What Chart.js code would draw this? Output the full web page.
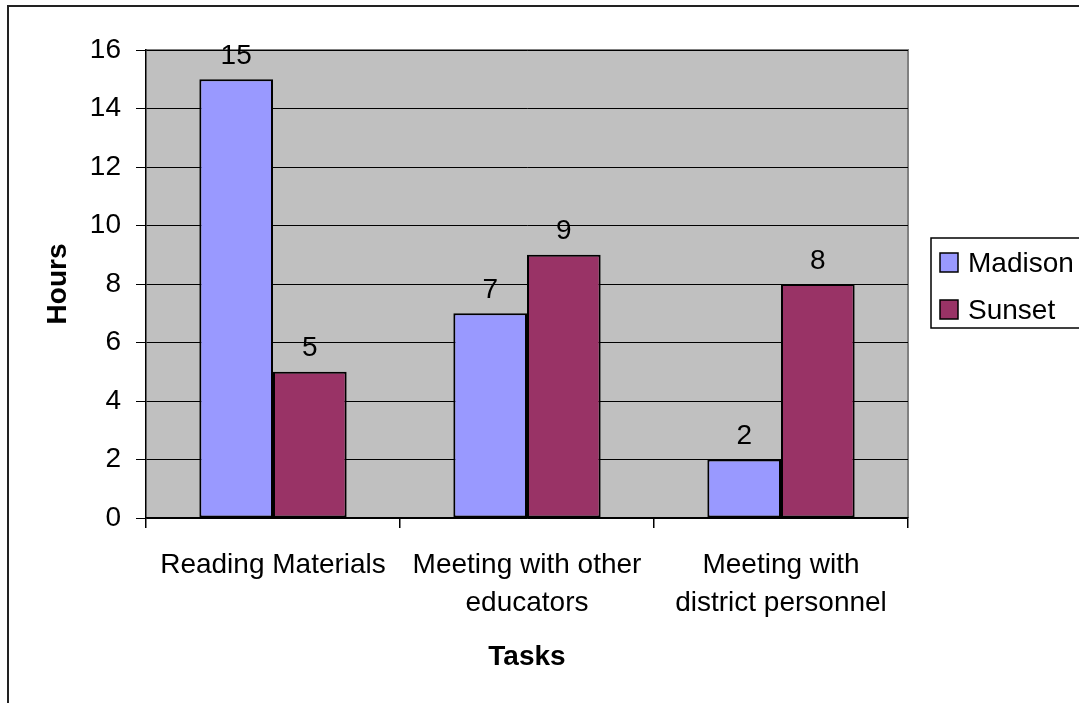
<!DOCTYPE html>
<html>
<head>
<meta charset="utf-8">
<script src="https://cdn.jsdelivr.net/npm/chart.js@4.4.0/dist/chart.umd.min.js"></script>
<style>
  html, body { margin: 0; padding: 0; background: #fff; }
  #wrap { width: 1079px; height: 703px; }
</style>
</head>
<body>
<div id="wrap"><canvas id="tasksChart" width="1079" height="703"></canvas></div>
<script>
const categories = [
  ["Reading Materials"],
  ["Meeting with other", "educators"],
  ["Meeting with", "district personnel"]
];
const seriesNames = ["Madison", "Sunset"];
const madisonHours = [15, 7, 2];
const sunsetHours = [5, 9, 8];
const seriesColors = ["#9999FF", "#993366"];

const FONT = "'Liberation Sans', Arial, sans-serif";

/* ===============================
   FUNDO DA ÁREA + BORDA EXTERNA
================================ */
const framePlugin = {
  id: "frame",
  beforeDraw(chart) {
    const { ctx, chartArea: a } = chart;
    ctx.save();
    ctx.fillStyle = "#fff";
    ctx.fillRect(0, 0, chart.width, chart.height);
    // outer chart border (left and top visible)
    ctx.strokeStyle = "#222";
    ctx.lineWidth = 2;
    ctx.beginPath();
    ctx.moveTo(8, chart.height + 2);
    ctx.lineTo(8, 6);
    ctx.lineTo(chart.width + 2, 6);
    ctx.stroke();
    // plot area
    ctx.fillStyle = "#C0C0C0";
    ctx.fillRect(a.left, a.top, a.right - a.left, a.bottom - a.top);
    ctx.strokeStyle = "#808080";
    ctx.lineWidth = 2;
    ctx.beginPath();
    ctx.moveTo(a.left, a.top);
    ctx.lineTo(a.right, a.top);
    ctx.lineTo(a.right, a.bottom);
    ctx.stroke();
    ctx.restore();
  }
};

/* ===============================
   RÓTULOS DOS VALORES + LEGENDA
================================ */
const labelsPlugin = {
  id: "valueLabels",
  afterDatasetsDraw(chart) {
    const { ctx } = chart;
    ctx.save();
    ctx.font = "28px " + FONT;
    ctx.fillStyle = "#000";
    ctx.textAlign = "center";
    ctx.textBaseline = "middle";
    chart.data.datasets.forEach((ds, i) => {
      chart.getDatasetMeta(i).data.forEach((bar, j) => {
        ctx.fillText(String(ds.data[j]), bar.x, bar.y - 23);
      });
    });

    // legend
    ctx.fillStyle = "#fff";
    ctx.fillRect(931, 238, 160, 90);
    ctx.strokeStyle = "#000";
    ctx.lineWidth = 1.5;
    ctx.strokeRect(931, 238, 160, 90);
    ctx.textAlign = "left";
    chart.data.datasets.forEach((ds, i) => {
      const cy = 262 + i * 47;
      ctx.fillStyle = ds.backgroundColor;
      ctx.fillRect(940, cy - 9, 18, 19);
      ctx.strokeStyle = "#000";
      ctx.lineWidth = 1.5;
      ctx.strokeRect(940, cy - 9, 18, 19);
      ctx.fillStyle = "#000";
      ctx.font = "28px " + FONT;
      ctx.fillText(ds.label, 968, cy + 2);
    });
    ctx.restore();
  }
};

new Chart(document.getElementById("tasksChart"), {
  type: "bar",
  data: {
    labels: categories,
    datasets: [
      {
        label: seriesNames[0],
        data: madisonHours,
        backgroundColor: seriesColors[0],
        borderColor: "#000",
        borderWidth: 2,
        borderSkipped: false,
        barPercentage: 1.0,
        categoryPercentage: 0.58
      },
      {
        label: seriesNames[1],
        data: sunsetHours,
        backgroundColor: seriesColors[1],
        borderColor: "#000",
        borderWidth: 2,
        borderSkipped: false,
        barPercentage: 1.0,
        categoryPercentage: 0.58
      }
    ]
  },
  options: {
    responsive: false,
    devicePixelRatio: 1,
    animation: false,
    layout: { padding: { left: 0, top: 50, right: 171, bottom: 0 } },
    plugins: {
      legend: { display: false },
      tooltip: { enabled: false }
    },
    scales: {
      x: {
        afterFit(scale) { scale.height = 185; },
        grid: {
          drawOnChartArea: false,
          drawTicks: true,
          tickLength: 10,
          color: "#000",
          lineWidth: 1.5
        },
        border: { display: true, color: "#000", width: 1.5 },
        ticks: {
          color: "#000",
          padding: 18,
          maxRotation: 0,
          autoSkip: false,
          font: { family: FONT, size: 28, lineHeight: 1.36 }
        },
        title: {
          display: true,
          text: "Tasks",
          color: "#000",
          padding: { top: 0, bottom: 29 },
          font: { family: FONT, size: 28, weight: "bold", lineHeight: 1.2 }
        }
      },
      y: {
        min: 0,
        max: 16,
        afterFit(scale) { scale.width = 146; },
        grid: {
          color: "#000",
          lineWidth: 1,
          tickLength: 10
        },
        border: { display: true, color: "#000", width: 1.5 },
        ticks: {
          stepSize: 2,
          color: "#000",
          padding: 15,
          font: { family: FONT, size: 28 }
        },
        title: {
          display: true,
          text: "Hours",
          color: "#000",
          padding: { top: 41, bottom: 0 },
          font: { family: FONT, size: 28, weight: "bold", lineHeight: 1.2 }
        }
      }
    }
  },
  plugins: [framePlugin, labelsPlugin]
});
</script>
</body>
</html>
